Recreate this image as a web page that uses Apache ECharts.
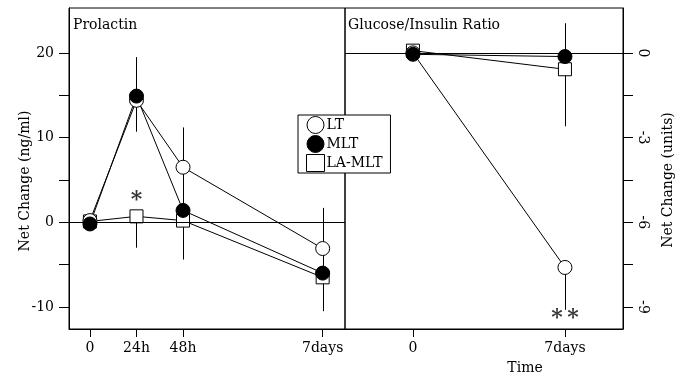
<!DOCTYPE html>
<html>
<head>
<meta charset="utf-8">
<script src="https://cdn.jsdelivr.net/npm/echarts@6/dist/echarts.min.js"></script>
<style>
  html, body { margin: 0; padding: 0; background: #fff; }
  #chart { width: 689px; height: 379px; }
</style>
</head>
<body>
<div id="chart"></div>
<script>
// prolactin panel (x positions: 0, 24h, 48h, 7days)
const prlX = [0, 1, 2, 5]
const prlLabels = { 0: '0', 1: '24h', 2: '48h', 5: '7days' }
const prlLT = [0.2, 14.4, 6.5, -3.1]
const prlMLT = [-0.2, 14.9, 1.4, -6.0]
const prlLAMLT = [0.1, 0.7, 0.2, -6.5]
const prlErrX = [1, 1, 2, 5]
const prlErrLow = [10.7, -3.0, -4.4, -10.5]
const prlErrHigh = [19.5, 0.7, 11.2, 1.7]
const prlTicks = [-10, -5, 0, 5, 10, 15, 20]
const prlTickLabels = [-10, 0, 10, 20]

// glucose/insulin panel (x positions: 0, 7days)
const giX = [0, 1]
const giLabels = { 0: '0', 1: '7days' }
const giLT = [0, -7.6]
const giMLT = [-0.05, -0.13]
const giLAMLT = [0.08, -0.58]
const giErrX = [1, 1]
const giErrLow = [-2.6, -9.1]
const giErrHigh = [1.05, -7.6]
const giTicks = [-9, -7.5, -6, -4.5, -3, -1.5, 0]
const giTickLabels = [-9, -6, -3, 0]

const font = 'DejaVu Serif'

const chart = echarts.init(document.getElementById('chart'))

function pts (xs, ys) {
  return xs.map((x, i) => [x, ys[i]])
}

function errBars (gridIdx, xs, lo, hi) {
  return {
    type: 'custom',
    xAxisIndex: gridIdx,
    yAxisIndex: gridIdx,
    z: 1,
    silent: true,
    renderItem: function (params, api) {
      const a = api.coord([api.value(0), api.value(1)])
      const b = api.coord([api.value(0), api.value(2)])
      const x = Math.round(a[0]) + 0.5
      return {
        type: 'line',
        shape: { x1: x, y1: a[1], x2: x, y2: b[1] },
        style: { stroke: '#000', lineWidth: 1 }
      }
    },
    encode: { x: 0, y: [1, 2] },
    data: xs.map((x, i) => [x, lo[i], hi[i]])
  }
}

function lineSeries (name, gridIdx, data, symbol, fill, size) {
  return {
    name: name,
    type: 'line',
    xAxisIndex: gridIdx,
    yAxisIndex: gridIdx,
    data: data,
    symbol: symbol,
    symbolSize: size,
    showAllSymbol: true,
    z: 3,
    lineStyle: { color: '#000', width: 1 },
    itemStyle: { color: fill, borderColor: '#000', borderWidth: 1 },
    emphasis: { disabled: true }
  }
}

// significance marks, placed on the panel's scales
function starSeries (gridIdx, x, y, txt) {
  return {
    type: 'scatter',
    xAxisIndex: gridIdx,
    yAxisIndex: gridIdx,
    symbol: 'circle',
    symbolSize: 1,
    silent: true,
    z: 4,
    itemStyle: { color: 'rgba(0,0,0,0)' },
    data: [[x, y]],
    label: {
      show: true,
      position: 'inside',
      offset: [0, 3],
      formatter: txt,
      color: '#000',
      fontFamily: font,
      fontWeight: 'bold',
      fontSize: 22
    }
  }
}

const axisText = { color: '#000', fontFamily: font, fontSize: 14 }
const zeroLine = {
  silent: true, symbol: 'none', label: { show: false },
  lineStyle: { color: '#000', width: 1, type: 'solid' },
  data: [{ yAxis: 0 }]
}

const option = {
  animation: false,
  grid: [
    { left: 69, top: 8, width: 276, height: 321, show: true, borderColor: '#000', borderWidth: 1 },
    { left: 345, top: 8, width: 278, height: 321, show: true, borderColor: '#000', borderWidth: 1 }
  ],
  xAxis: [
    {
      type: 'value', gridIndex: 0, min: -0.45, max: 5.48,
      axisLine: { onZero: false, lineStyle: { color: '#000' } },
      axisTick: { show: true, length: 8, lineStyle: { color: '#000' }, customValues: prlX },
      axisLabel: Object.assign({ margin: 12, customValues: prlX, formatter: v => prlLabels[v] }, axisText),
      splitLine: { show: false }
    },
    {
      type: 'value', gridIndex: 1, min: -0.447, max: 1.382,
      axisLine: { onZero: false, lineStyle: { color: '#000' } },
      axisTick: { show: true, length: 8, lineStyle: { color: '#000' }, customValues: giX },
      axisLabel: Object.assign({ margin: 12, customValues: giX, formatter: v => giLabels[v] }, axisText),
      splitLine: { show: false }
    }
  ],
  yAxis: [
    {
      type: 'value', gridIndex: 0, min: -12.6, max: 25.3,
      axisLine: { show: true, onZero: false, lineStyle: { color: '#000' } },
      axisTick: { show: true, length: 10, lineStyle: { color: '#000' }, customValues: prlTicks },
      axisLabel: Object.assign({ margin: 15, customValues: prlTickLabels }, axisText),
      splitLine: { show: false }
    },
    {
      type: 'value', gridIndex: 1, position: 'right', min: -9.78, max: 1.59,
      axisLine: { show: true, onZero: false, lineStyle: { color: '#000' } },
      axisTick: { show: true, length: 10, lineStyle: { color: '#000' }, customValues: giTicks },
      axisLabel: Object.assign({ margin: 13, rotate: -90, customValues: giTickLabels }, axisText),
      splitLine: { show: false }
    }
  ],
  legend: {
    left: 298,
    top: 115,
    orient: 'vertical',
    backgroundColor: '#fff',
    borderColor: '#000',
    borderWidth: 1,
    borderRadius: 0,
    padding: [1, 8, 1, 8],
    itemWidth: 18,
    itemHeight: 17,
    itemGap: 1,
    selectedMode: false,
    textStyle: { color: '#000', fontFamily: font, fontSize: 14, padding: [0, 0, 0, -3] },
    data: [
      { name: 'LT', icon: 'circle', itemStyle: { color: '#fff', borderColor: '#000', borderWidth: 1 } },
      { name: 'MLT', icon: 'circle', itemStyle: { color: '#000', borderColor: '#000', borderWidth: 1 } },
      { name: 'LA-MLT', icon: 'rect', itemStyle: { color: '#fff', borderColor: '#000', borderWidth: 1 } }
    ]
  },
  graphic: [
    { type: 'text', left: 73, top: 18, style: { text: 'Prolactin', fill: '#000', font: '14px "DejaVu Serif"' } },
    { type: 'text', left: 348, top: 18, style: { text: 'Glucose/Insulin Ratio', fill: '#000', font: '14px "DejaVu Serif"' } },
    {
      type: 'text', x: 25, y: 181, rotation: Math.PI / 2,
      style: { text: 'Net Change (ng/ml)', fill: '#000', font: '14px "DejaVu Serif"', align: 'center', verticalAlign: 'middle' }
    },
    {
      type: 'text', x: 668, y: 180, rotation: Math.PI / 2,
      style: { text: 'Net Change (units)', fill: '#000', font: '14px "DejaVu Serif"', align: 'center', verticalAlign: 'middle' }
    },
    {
      type: 'text', x: 525, y: 368,
      style: { text: 'Time', fill: '#000', font: '14px "DejaVu Serif"', align: 'center', verticalAlign: 'middle' }
    }
  ],
  series: [
    errBars(0, prlErrX, prlErrLow, prlErrHigh),
    errBars(1, giErrX, giErrLow, giErrHigh),
    Object.assign(lineSeries('LA-MLT', 0, pts(prlX, prlLAMLT), 'rect', '#fff', 13), { markLine: zeroLine }),
    lineSeries('LT', 0, pts(prlX, prlLT), 'circle', '#fff', 14),
    lineSeries('MLT', 0, pts(prlX, prlMLT), 'circle', '#000', 14),
    Object.assign(lineSeries('LA-MLT', 1, pts(giX, giLAMLT), 'rect', '#fff', 13), { markLine: zeroLine }),
    lineSeries('LT', 1, pts(giX, giLT), 'circle', '#fff', 14),
    lineSeries('MLT', 1, pts(giX, giMLT), 'circle', '#000', 14),
    starSeries(0, 1, 2.9, '*'),
    starSeries(1, 1, -9.3, '*\u2009*')
  ]
}

chart.setOption(option)
</script>
</body>
</html>
